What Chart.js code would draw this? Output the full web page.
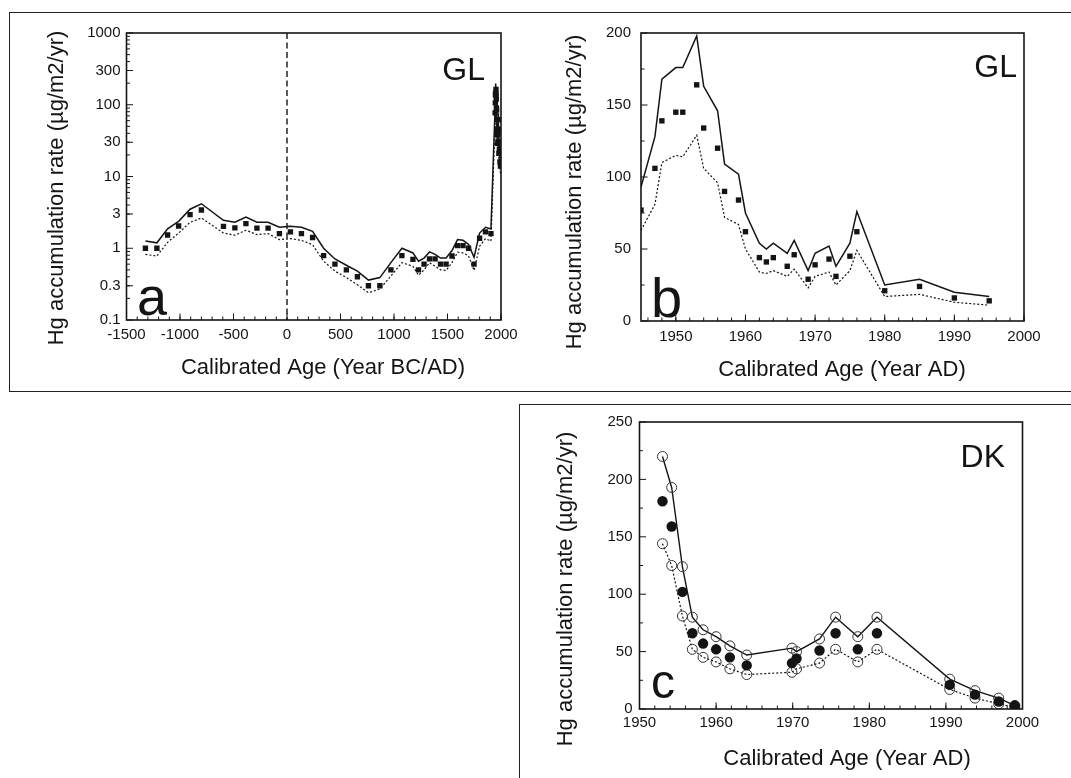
<!DOCTYPE html>
<html>
<head>
<meta charset="utf-8">
<script src="https://cdn.jsdelivr.net/npm/chart.js@4.4.1/dist/chart.umd.min.js"></script>
<style>
  html, body { margin: 0; padding: 0; background: #fff; }
  body { width: 1071px; height: 778px; position: relative; overflow: hidden; }
  .frame { position: absolute; border: 1.5px solid #222; box-sizing: border-box; }
  canvas { position: absolute; }
</style>
</head>
<body>
<div class="frame" style="left:9px;top:12px;width:1100px;height:380px"></div>
<div class="frame" style="left:519px;top:404px;width:600px;height:400px"></div>
<canvas id="chartA" width="560" height="392" style="left:0;top:0"></canvas>
<canvas id="chartB" width="511" height="392" style="left:560px;top:0"></canvas>
<canvas id="chartC" width="549" height="372" style="left:522px;top:406px"></canvas>
<script>
// GL core, pre-industrial part (years BC/AD)
const glOldYear = [-1323, -1216, -1116, -1013, -906, -800, -594, -487, -384, -281, -177, -71, 32, 135, 239,
  342, 448, 555, 658, 761, 868, 971, 1074, 1177, 1229, 1281, 1332, 1384, 1435, 1487, 1542, 1594, 1645,
  1697, 1748, 1800, 1855, 1906];
const glOldRate = [1.0, 1.0, 1.53, 2.04, 2.94, 3.41, 2.02, 1.92, 2.2, 1.91, 1.91, 1.6, 1.69, 1.6, 1.41,
  0.79, 0.6, 0.5, 0.4, 0.3, 0.3, 0.5, 0.79, 0.7, 0.5, 0.6, 0.71, 0.71, 0.6, 0.6, 0.78, 1.09, 1.09,
  1.0, 0.6, 1.38, 1.69, 1.6];
const glOldHigh = [1.26, 1.19, 1.86, 2.37, 3.5, 4.17, 2.45, 2.3, 2.72, 2.3, 2.3, 1.96, 2.02, 1.96, 1.72,
  1.0, 0.71, 0.58, 0.48, 0.36, 0.39, 0.63, 1.0, 0.86, 0.66, 0.73, 0.89, 0.82, 0.73, 0.73, 0.93, 1.32, 1.29,
  1.13, 0.75, 1.63, 1.96, 1.85];
const glOldLow = [0.82, 0.78, 1.21, 1.63, 2.3, 2.64, 1.63, 1.52, 1.78, 1.55, 1.6, 1.32, 1.36, 1.29, 1.12,
  0.66, 0.48, 0.39, 0.31, 0.24, 0.27, 0.41, 0.63, 0.56, 0.42, 0.5, 0.63, 0.56, 0.5, 0.49, 0.63, 0.88, 0.86,
  0.78, 0.49, 1.07, 1.36, 1.26];

// GL core, recent part (years AD)
const glYear = [1945, 1947, 1948, 1950, 1951, 1953, 1954, 1956, 1957, 1959, 1960, 1962, 1963, 1964,
  1966, 1967, 1969, 1970, 1972, 1973, 1975, 1976, 1980, 1985, 1990, 1995];
const glRate = [77, 106, 139, 145, 145, 164, 134, 120, 90, 84, 62, 44, 41, 44, 38, 46, 29, 39, 43, 31,
  45, 62, 21, 24, 16, 14];
const glHigh = [93, 128, 168, 176, 176, 198, 163, 146, 109, 102, 75, 54, 50, 54, 47, 56, 35, 47, 52, 38,
  54, 76, 25, 29, 20, 17];
const glLow = [63, 81, 110, 115, 114, 129, 106, 96, 72, 67, 50, 34, 33, 35, 31, 36, 23, 31, 34, 25,
  35, 49, 17, 18.5, 13, 11];

// DK core
const dkYear = [1953.0, 1954.2, 1955.6, 1956.9, 1958.3, 1960.0, 1961.8, 1964.0, 1969.9, 1970.5, 1973.5,
  1975.6, 1978.5, 1981.0, 1990.5, 1993.8, 1996.9, 1999.0];
const dkRate = [181, 159, 102, 66, 57, 52, 45, 38, 40, 44, 51, 66, 52, 66, 21, 12.5, 6.5, 3];
const dkHigh = [220, 193, 124, 80, 69, 63, 55, 47, 53, 50, 61, 80, 63, 80, 26, 16, 9.5, 3];
const dkLow = [144, 125, 81, 52, 45, 41, 35, 30, 32, 35, 40, 52, 41, 52, 17, 9.5, 4.5, 1.5];

// tick labels
const aYearTicks = [-1500, -1000, -500, 0, 500, 1000, 1500, 2000];
const aRateTicks = [0.1, 0.3, 1, 3, 10, 30, 100, 300, 1000];
const bYearTicks = [1950, 1960, 1970, 1980, 1990, 2000];
const bRateTicks = [0, 50, 100, 150, 200];
const cYearTicks = [1950, 1960, 1970, 1980, 1990, 2000];
const cRateTicks = [0, 50, 100, 150, 200, 250];

const FONT = "'Liberation Sans', Arial, Helvetica, sans-serif";
const INK = '#141414';
const Y_TITLE = 'Hg accumulation rate (µg/m2/yr)';

Chart.defaults.font.family = FONT;
Chart.defaults.color = INK;

const pts = (xs, ys) => xs.map((x, i) => ({ x: x, y: ys[i] }));
const range = (a, b, step) => { const out = []; for (let v = a; v <= b + 1e-9; v += step) out.push(v); return out; };

// minor ticks of the log axis: 2..9 in every decade
const logMinor = [];
for (let k = -1; k < 3; k++) for (let m = 2; m <= 9; m++) logMinor.push(m * Math.pow(10, k));

// plot frame + short inward tick marks
function frameTicks(t) {
  return {
    id: 'frameTicks',
    afterDatasetsDraw(chart) {
      const { ctx, chartArea: a, scales: { x, y } } = chart;
      ctx.save();
      ctx.strokeStyle = INK;
      if (t.zero !== undefined) {
        const px = x.getPixelForValue(t.zero);
        ctx.lineWidth = 1.4;
        ctx.setLineDash([6, 3.5]);
        ctx.beginPath(); ctx.moveTo(px, a.top); ctx.lineTo(px, a.bottom); ctx.stroke();
        ctx.setLineDash([]);
      }
      ctx.lineWidth = 1;
      const xt = (v, len) => { const px = x.getPixelForValue(v); ctx.moveTo(px, a.bottom); ctx.lineTo(px, a.bottom - len); };
      const yt = (v, len) => { const py = y.getPixelForValue(v); ctx.moveTo(a.left, py); ctx.lineTo(a.left + len, py); };
      ctx.beginPath();
      t.xMinor.forEach(v => xt(v, 3.5));
      t.xMajor.forEach(v => xt(v, 6.5));
      t.yMinor.forEach(v => yt(v, 3.5));
      t.yMajor.forEach(v => yt(v, 6.5));
      ctx.stroke();
      ctx.lineWidth = 1.6;
      ctx.strokeRect(a.left, a.top, a.right - a.left, a.bottom - a.top);
      ctx.restore();
    }
  };
}

// titles and panel letters
function panelText(items) {
  return {
    id: 'panelText',
    afterDraw(chart) {
      const ctx = chart.ctx;
      items.forEach(t => {
        ctx.save();
        ctx.font = t.size + 'px ' + FONT;
        ctx.fillStyle = INK;
        ctx.textAlign = t.align || 'center';
        ctx.textBaseline = t.baseline || 'middle';
        ctx.translate(t.x, t.y);
        if (t.rotate) ctx.rotate(t.rotate);
        ctx.fillText(t.text, 0, 0);
        ctx.restore();
      });
    }
  };
}

function axis(type, min, max, ticks, pad, fit) {
  return {
    type: type, min: min, max: max,
    grid: { display: false, drawTicks: false },
    border: { display: false },
    ticks: { padding: pad, font: { size: 15 }, color: INK, autoSkip: false, maxRotation: 0, callback: v => String(v) },
    afterBuildTicks: s => { s.ticks = ticks.map(v => ({ value: v })); },
    afterFit: fit
  };
}

function squareSet(data) {
  return { data: data, showLine: false, pointStyle: 'rect', pointRadius: 3.8, pointHoverRadius: 3.8,
    pointBackgroundColor: INK, pointBorderWidth: 0 };
}
function lineSet(data, dashed) {
  return { data: data, borderColor: INK, borderWidth: dashed ? 1.2 : 1.5, borderDash: dashed ? [2, 2] : [],
    pointRadius: 0, tension: 0, fill: false };
}

const common = {
  responsive: false, animation: false, devicePixelRatio: 1,
  plugins: { legend: { display: false }, tooltip: { enabled: false } }
};

// a: full record, log scale
new Chart(document.getElementById('chartA'), {
  type: 'line',
  data: { datasets: [
    squareSet(pts(glOldYear.concat(glYear), glOldRate.concat(glRate))),
    lineSet(pts(glOldYear.concat(glYear), glOldHigh.concat(glHigh)), false),
    lineSet(pts(glOldYear.concat(glYear), glOldLow.concat(glLow)), true)
  ] },
  options: Object.assign({}, common, {
    layout: { padding: { left: 0, top: 33, right: 59, bottom: 0 } },
    scales: {
      x: axis('linear', -1500, 2000, aYearTicks, 6, s => { s.height = 72; }),
      y: axis('logarithmic', 0.1, 1000, aRateTicks, 6, s => { s.width = 126.5; })
    }
  }),
  plugins: [
    frameTicks({ xMajor: aYearTicks, xMinor: range(-1500, 2000, 100), yMajor: aRateTicks, yMinor: logMinor, zero: 0 }),
    panelText([
      { text: Y_TITLE, x: 57, y: 188, size: 22, rotate: -Math.PI / 2 },
      { text: 'Calibrated Age (Year BC/AD)', x: 323, y: 368, size: 22 },
      { text: 'a', x: 137, y: 315, size: 54, align: 'left', baseline: 'alphabetic' },
      { text: 'GL', x: 485, y: 80, size: 32, align: 'right', baseline: 'alphabetic' }
    ])
  ]
});

// b: GL since 1945
new Chart(document.getElementById('chartB'), {
  type: 'line',
  data: { datasets: [
    squareSet(pts(glYear, glRate)),
    lineSet(pts(glYear, glHigh), false),
    lineSet(pts(glYear, glLow), true)
  ] },
  options: Object.assign({}, common, {
    layout: { padding: { left: 0, top: 33, right: 47, bottom: 0 } },
    scales: {
      x: axis('linear', 1945, 2000, bYearTicks, 7, s => { s.height = 71; }),
      y: axis('linear', 0, 200, bRateTicks, 10, s => { s.width = 81; })
    }
  }),
  plugins: [
    frameTicks({ xMajor: bYearTicks, xMinor: range(1946, 2000, 2), yMajor: bRateTicks, yMinor: range(25, 175, 50) }),
    panelText([
      { text: Y_TITLE, x: 15, y: 192, size: 22, rotate: -Math.PI / 2 },
      { text: 'Calibrated Age (Year AD)', x: 282, y: 370, size: 22 },
      { text: 'b', x: 91, y: 317, size: 56, align: 'left', baseline: 'alphabetic' },
      { text: 'GL', x: 457, y: 77, size: 32, align: 'right', baseline: 'alphabetic' }
    ])
  ]
});

// c: DK core
new Chart(document.getElementById('chartC'), {
  type: 'line',
  data: { datasets: [
    { data: pts(dkYear, dkRate), showLine: false, pointRadius: 5.2, pointHoverRadius: 5.2,
      pointBackgroundColor: INK, pointBorderWidth: 0 },
    { data: pts(dkYear, dkHigh), borderColor: INK, borderWidth: 1.4, tension: 0, fill: false,
      pointRadius: 5, pointHoverRadius: 5, pointBackgroundColor: 'rgba(0,0,0,0)', pointBorderColor: '#333', pointBorderWidth: 1 },
    { data: pts(dkYear, dkLow), borderColor: INK, borderWidth: 1.2, borderDash: [2, 2], tension: 0, fill: false,
      pointRadius: 5, pointHoverRadius: 5, pointBackgroundColor: 'rgba(0,0,0,0)', pointBorderColor: '#333', pointBorderWidth: 1 }
  ] },
  options: Object.assign({}, common, {
    layout: { padding: { left: 0, top: 9, right: 48.5, bottom: 0 } },
    scales: {
      x: axis('linear', 1950, 2000, cYearTicks, 5, s => { s.height = 69; }),
      y: axis('linear', 0, 250, cRateTicks, 7, s => { s.width = 117.5; })
    }
  }),
  plugins: [
    frameTicks({ xMajor: cYearTicks, xMinor: range(1952, 2000, 2), yMajor: cRateTicks, yMinor: range(25, 225, 50) }),
    panelText([
      { text: Y_TITLE, x: 44, y: 183, size: 22, rotate: -Math.PI / 2 },
      { text: 'Calibrated Age (Year AD)', x: 325, y: 353, size: 22 },
      { text: 'c', x: 129, y: 292, size: 48, align: 'left', baseline: 'alphabetic' },
      { text: 'DK', x: 483, y: 61, size: 32, align: 'right', baseline: 'alphabetic' }
    ])
  ]
});
</script>
</body>
</html>
